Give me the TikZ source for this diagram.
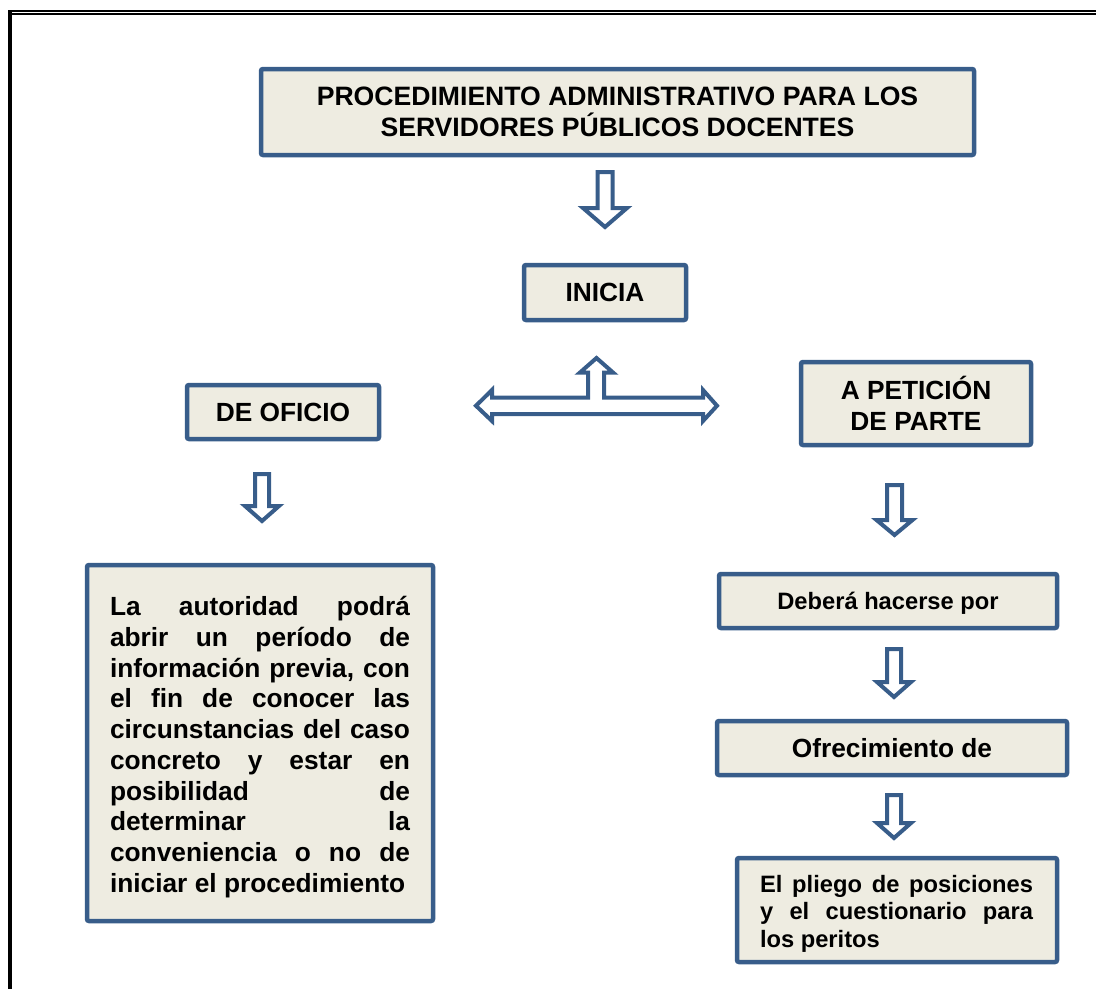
\documentclass[tikz,border=0pt]{standalone}
\usepackage{fontspec}
\setmainfont{Liberation Sans}
\hbadness=10000
\definecolor{boxblue}{HTML}{385D8A}
\definecolor{boxfill}{HTML}{EEECE1}
\tikzset{
  box/.style={draw=boxblue, fill=boxfill, line width=4.5pt, rounded corners=2pt,
    inner sep=0pt, align=center, font=\bfseries\fontsize{26.3}{31}\selectfont},
  smallbox/.style={box, font=\bfseries\fontsize{23.7}{28}\selectfont},
  bodytext/.style={inner sep=0pt, align=justify},
  blockarrow/.style={draw=boxblue, fill=white, line width=4pt, line join=miter},
  frameline/.style={fill=black},
}
% name, cx, top, headbase, tip, shaft half width, head half width
\newcommand{\downblock}[7]{%
  \draw[blockarrow] ({#2-#6},#3) -- ({#2+#6},#3) -- ({#2+#6},#4) -- ({#2+#7},#4)
    -- (#2,#5) -- ({#2-#7},#4) -- ({#2-#6},#4) -- cycle;
  \coordinate (#1) at (#2,#5);
}
\begin{document}
\begin{tikzpicture}[x=1pt,y=-1pt]
\useasboundingbox (0,0) rectangle (1096,989);
% page frame
\fill[frameline] (8,10) rectangle (12,989);
\fill[frameline] (8,10) rectangle (1096,12);
\fill[frameline] (12,13.3) rectangle (1096,15.3);

% boxes
\node[box, minimum width=713pt, minimum height=86pt, font=\bfseries\fontsize{26.6}{31}\selectfont] (title) at (617.5,112)
  {PROCEDIMIENTO ADMINISTRATIVO PARA LOS\\SERVIDORES PÚBLICOS DOCENTES};
\node[box, minimum width=162pt, minimum height=55pt] (inicia) at (605,292.5) {INICIA};
\node[box, minimum width=192pt, minimum height=54pt] (oficio) at (283,412) {DE OFICIO};
\node[box, minimum width=230pt, minimum height=83pt] (peticion) at (916,403.5) {A PETICIÓN\\DE PARTE};
\node[smallbox, minimum width=338pt, minimum height=54pt, text depth=0pt] (debera) at (888,601) {Deberá hacerse por};
\node[box, minimum width=350pt, minimum height=54pt] (ofrec) at (892,748) {Ofrecimiento de};

\node[box, minimum width=320pt, minimum height=104pt] (pliego) at (897,910) {};
\node[bodytext, text width=273pt, font=\bfseries\fontsize{23.7}{27.5}\selectfont] (pliegotxt) at (896.5,913.5)
  {El pliego de posiciones\linebreak y el cuestionario para\linebreak los peritos};

\node[box, minimum width=346pt, minimum height=356pt] (oficiobox) at (260,743) {};
\node[bodytext, text width=300pt, font=\bfseries\fontsize{26.3}{30.75}\selectfont] (oficiotxt) at (260,747)
  {La autoridad podrá\linebreak abrir un período de\linebreak información previa, con\linebreak
   el fin de conocer las\linebreak circunstancias del caso\linebreak concreto y estar en\linebreak
   posibilidad de\linebreak determinar la\linebreak conveniencia o no de\linebreak
   iniciar el procedimiento};

% block arrows
\downblock{a1}{605}{172}{208}{227}{7.5}{22}
\downblock{a2}{262}{474}{506}{521}{7}{17}
\downblock{a3}{894.5}{485}{520}{535}{7.5}{18}
\downblock{a4}{894}{649}{682}{697}{7}{17}
\downblock{a5}{894}{795}{823}{838}{7}{17}

% T-shaped triple arrow from INICIA
\draw[blockarrow] (476,405.75) -- (492,390) -- (492,397.5) -- (588,397.5) -- (588,372.5)
  -- (580,372.5) -- (596.5,358) -- (613,372.5) -- (604,372.5) -- (604,397.5)
  -- (703,397.5) -- (703,390) -- (717,405.75) -- (703,421) -- (703,414)
  -- (492,414) -- (492,421) -- cycle;
\end{tikzpicture}
\end{document}
